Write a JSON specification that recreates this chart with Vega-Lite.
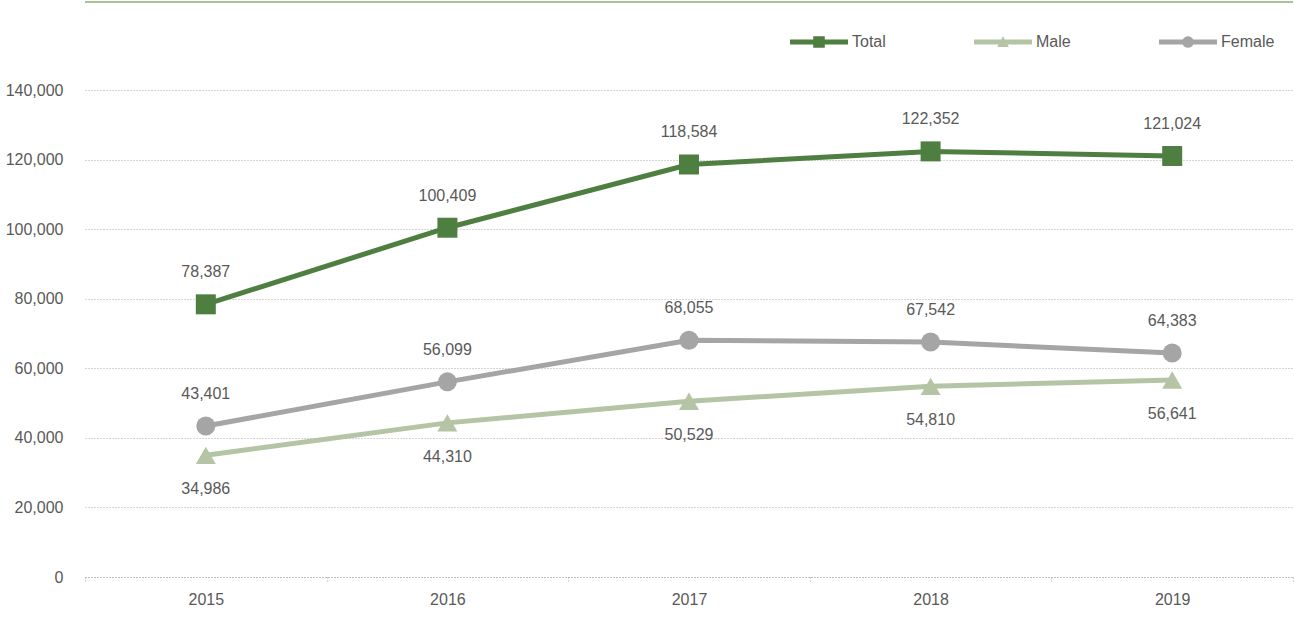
{
  "$schema": "https://vega.github.io/schema/vega-lite/v6.json",
  "width": 1208,
  "height": 487,
  "autosize": "none",
  "padding": {"left": 85, "top": 90, "right": 1, "bottom": 61},
  "background": "white",
  "config": {"font": "Liberation Sans", "numberFormat": ",", "view": {"stroke": null},
    "axisY": {"title": null, "labelExpr": "format(datum.value, ',')", "domain": false, "ticks": false, "labelPadding": 22, "gridColor": "#aaaaaa", "gridDash": [1, 2], "labelColor": "#595959", "labelFontSize": 16}},
  "data": {"values": [
    {"year": "2015", "series": "Total", "value": 78387},
    {"year": "2016", "series": "Total", "value": 100409},
    {"year": "2017", "series": "Total", "value": 118584},
    {"year": "2018", "series": "Total", "value": 122352},
    {"year": "2019", "series": "Total", "value": 121024},
    {"year": "2015", "series": "Male", "value": 34986},
    {"year": "2016", "series": "Male", "value": 44310},
    {"year": "2017", "series": "Male", "value": 50529},
    {"year": "2018", "series": "Male", "value": 54810},
    {"year": "2019", "series": "Male", "value": 56641},
    {"year": "2015", "series": "Female", "value": 43401},
    {"year": "2016", "series": "Female", "value": 56099},
    {"year": "2017", "series": "Female", "value": 68055},
    {"year": "2018", "series": "Female", "value": 67542},
    {"year": "2019", "series": "Female", "value": 64383}
  ]},
  "layer": [
    {
      "mark": {"type": "line", "strokeWidth": 5},
      "encoding": {
        "x": {"field": "year", "type": "ordinal", "bandPosition": 0.5,
          "scale": {"type": "band", "paddingInner": 0, "paddingOuter": 0},
          "axis": {"title": null, "labelAngle": 0, "tickBand": "extent", "domainColor": "#aaaaaa", "domainDash": [1, 2], "tickColor": "#aaaaaa", "tickDash": [1, 2], "tickSize": 5, "labelColor": "#595959", "labelFontSize": 16, "labelPadding": 9, "grid": false}},
        "y": {"field": "value", "type": "quantitative",
          "scale": {"domain": [0, 140000], "nice": false},
          "axis": {"values": [0, 20000, 40000, 60000, 80000, 100000, 120000, 140000], "labelExpr": "format(datum.value, ',')"}},
        "color": {"field": "series", "type": "nominal",
          "scale": {"domain": ["Total", "Male", "Female"], "range": ["#4f7e41", "#b4c4a4", "#a5a5a5"]},
          "legend": {"title": null, "orient": "none", "legendX": 705, "legendY": -77, "direction": "horizontal", "symbolSize": 3364, "symbolType": "M-1,-0.085H1V0.085H-1Z", "labelOffset": 4, "columnPadding": 88, "labelFontSize": 16, "labelColor": "#595959", "padding": 0, "gridAlign": "each",
            "encode": {"symbols": {"update": {
              "shape": {"signal": "datum.value === 'Total' ? 'M-1,-0.085H-0.2V-0.2H0.2V-0.085H1V0.085H0.2V0.2H-0.2V0.085H-1Z' : datum.value === 'Male' ? 'M-1,-0.085L-0.062,-0.085L0,-0.2L0.062,-0.085L1,-0.085L1,0.085L0.154,0.085L0.2,0.17L-0.2,0.17L-0.154,0.085L-1,0.085Z' : 'M-1,-0.085H-0.181A0.2,0.2 0 0,1 0.181,-0.085H1V0.085H0.181A0.2,0.2 0 0,1 -0.181,0.085H-1Z'"},
              "fill": {"scale": "color", "field": "value"},
              "fillOpacity": {"value": 1},
              "stroke": {"value": "transparent"},
              "strokeWidth": {"value": 0},
              "opacity": {"value": 1}
            }}}
          }},
        "detail": {"field": "series"}
      }
    },
    {
      "data": {"values": [{}]},
      "mark": {"type": "rule", "color": "#a9c29a", "strokeWidth": 2},
      "encoding": {"y": {"datum": 165300, "type": "quantitative"}}
    },
    {
      "transform": [{"filter": "datum.series === 'Total'"}],
      "mark": {"type": "point", "filled": true, "opacity": 1, "shape": "square", "size": 400},
      "encoding": {
        "x": {"field": "year", "type": "ordinal", "bandPosition": 0.5},
        "y": {"field": "value", "type": "quantitative"},
        "color": {"field": "series", "type": "nominal", "legend": null}
      }
    },
    {
      "transform": [{"filter": "datum.series === 'Male'"}],
      "mark": {"type": "point", "filled": true, "opacity": 1, "shape": "triangle-up", "size": 400},
      "encoding": {
        "x": {"field": "year", "type": "ordinal", "bandPosition": 0.5},
        "y": {"field": "value", "type": "quantitative"},
        "color": {"field": "series", "type": "nominal", "legend": null}
      }
    },
    {
      "transform": [{"filter": "datum.series === 'Female'"}],
      "mark": {"type": "point", "filled": true, "opacity": 1, "shape": "circle", "size": 361},
      "encoding": {
        "x": {"field": "year", "type": "ordinal", "bandPosition": 0.5},
        "y": {"field": "value", "type": "quantitative"},
        "color": {"field": "series", "type": "nominal", "legend": null}
      }
    },
    {
      "transform": [{"filter": "datum.series !== 'Male'"}],
      "mark": {"type": "text", "dy": -32, "fontSize": 16, "color": "#595959"},
      "encoding": {
        "x": {"field": "year", "type": "ordinal", "bandPosition": 0.5},
        "y": {"field": "value", "type": "quantitative"},
        "text": {"field": "value", "type": "quantitative", "format": ","}
      }
    },
    {
      "transform": [{"filter": "datum.series === 'Male'"}],
      "mark": {"type": "text", "dy": 34, "fontSize": 16, "color": "#595959"},
      "encoding": {
        "x": {"field": "year", "type": "ordinal", "bandPosition": 0.5},
        "y": {"field": "value", "type": "quantitative"},
        "text": {"field": "value", "type": "quantitative", "format": ","}
      }
    }
  ]
}
